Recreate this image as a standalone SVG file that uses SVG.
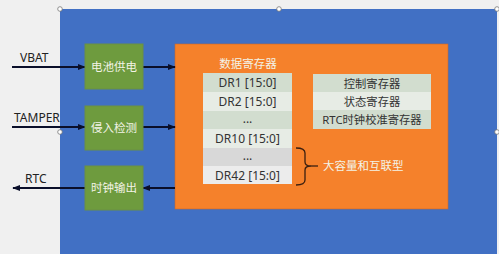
<svg xmlns="http://www.w3.org/2000/svg" width="499" height="254" viewBox="0 0 499 254">
<defs>
<style>
.t{font-family:"Noto Sans","Noto Sans CJK SC",sans-serif;font-size:12px;}
.lbl{fill:#222;}
.wt{fill:#f3f3e6;font-size:11.5px;}
.cell{fill:#333;text-anchor:middle;}
.zh{font-size:11.3px;}
.ln{stroke:#0a0f2a;stroke-width:2;fill:none;}
.gb{fill:#6e9b3e;stroke:#6a8f44;stroke-width:1;}
.hd{fill:#fff;stroke:#777;stroke-width:0.8;}
</style>
<marker id="ah" viewBox="0 0 10 10" refX="9" refY="5" markerWidth="4" markerHeight="4" orient="auto-start-reverse">
<path d="M0,1 L10,5 L0,9 z" fill="#0a0f2a"/>
</marker>
</defs>
<rect width="499" height="254" fill="#f0f0f0"/>
<g id="frame">
<rect x="60" y="9" width="437" height="250" fill="#4170c4"/>
</g>
<g id="orange">
<rect x="175" y="44" width="273" height="165" fill="#f5812b" stroke="#c8682a" stroke-width="0.6"/>
<text class="t wt" x="248" y="68" text-anchor="middle">数据寄存器</text>
</g>
<g id="connectors">
<line class="ln" x1="12" y1="67" x2="85" y2="67" marker-end="url(#ah)"/>
<line class="ln" x1="143" y1="67" x2="175" y2="67" marker-end="url(#ah)"/>
<line class="ln" x1="12" y1="127" x2="85" y2="127" marker-end="url(#ah)"/>
<line class="ln" x1="143" y1="127" x2="175" y2="127" marker-end="url(#ah)"/>
<line class="ln" x1="175" y1="188" x2="143" y2="188" marker-end="url(#ah)"/>
<line class="ln" x1="85" y1="188" x2="13" y2="188" marker-end="url(#ah)"/>
</g>
<g id="labels">
<text class="t lbl" x="20" y="62">VBAT</text>
<text class="t lbl" x="14" y="122">TAMPER</text>
<text class="t lbl" x="25" y="183">RTC</text>
</g>
<g id="battery">
<rect class="gb" x="85" y="44" width="58" height="45"/>
<text class="t wt" x="114" y="71" text-anchor="middle">电池供电</text>
</g>
<g id="tamper">
<rect class="gb" x="85" y="106" width="58" height="44"/>
<text class="t wt" x="114" y="132" text-anchor="middle">侵入检测</text>
</g>
<g id="clock">
<rect class="gb" x="85" y="166" width="58" height="44"/>
<text class="t wt" x="114" y="192" text-anchor="middle">时钟输出</text>
</g>
<g id="data-regs">
<rect x="203" y="73" width="89" height="19" fill="#d2ddcf"/>
<rect x="203" y="92" width="89" height="19" fill="#e7ece5"/>
<rect x="203" y="111" width="89" height="18" fill="#d2ddcf"/>
<rect x="203" y="129" width="89" height="19" fill="#e7ece5"/>
<rect x="203" y="148" width="89" height="18" fill="#d8d8d8"/>
<rect x="203" y="166" width="89" height="18" fill="#ececec"/>
<text class="t cell" x="247.5" y="87">DR1 [15:0]</text>
<text class="t cell" x="247.5" y="106">DR2 [15:0]</text>
<text class="t cell" x="247.5" y="123">...</text>
<text class="t cell" x="247.5" y="143">DR10 [15:0]</text>
<text class="t cell" x="247.5" y="160">...</text>
<text class="t cell" x="247.5" y="180">DR42 [15:0]</text>
</g>
<g id="ctrl-regs">
<rect x="313" y="74" width="118" height="18" fill="#d2ddcf"/>
<rect x="313" y="92" width="118" height="18" fill="#e7ece5"/>
<rect x="313" y="110" width="118" height="19" fill="#d2ddcf"/>
<text class="t cell zh" x="372" y="88">控制寄存器</text>
<text class="t cell zh" x="372" y="106">状态寄存器</text>
<text class="t cell zh" x="372" y="124">RTC时钟校准寄存器</text>
</g>
<g id="brace">
<path d="M296,148 Q305,148 305,153 L305,162 Q305,166 311,166 Q305,166 305,170 L305,180 Q305,185 296,185" fill="none" stroke="#3a1f10" stroke-width="1.3"/>
<line x1="311" y1="166" x2="318" y2="166" stroke="#3a1f10" stroke-width="1.3"/>
<text class="t wt" x="323" y="170">大容量和互联型</text>
</g>
<g id="handles">
<circle class="hd" cx="60" cy="9" r="2.3"/>
<circle class="hd" cx="279" cy="9" r="2.3"/>
<circle class="hd" cx="497" cy="9" r="2.3"/>
<circle class="hd" cx="60" cy="132" r="2.3"/>
<circle class="hd" cx="497" cy="132" r="2.3"/>
</g>
</svg>
